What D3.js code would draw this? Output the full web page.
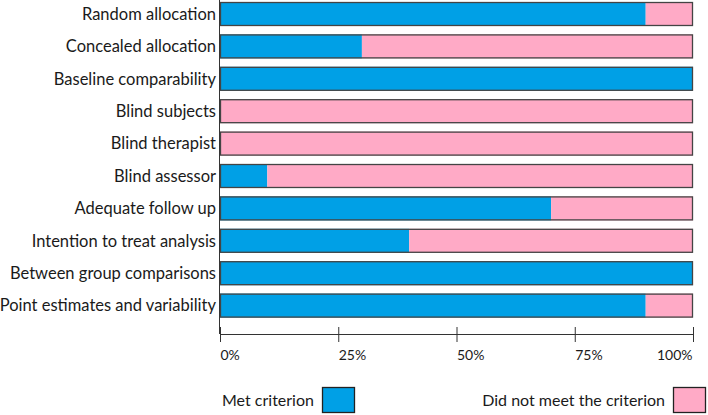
<!DOCTYPE html>
<html><head><meta charset="utf-8">
<script src="https://cdn.jsdelivr.net/npm/d3@7"></script>
<style>body{margin:0;background:#fff}svg{display:block}text{font-family:Lato,"Open Sans",sans-serif;fill:#1a1a1a}</style>
</head><body><svg id="c" width="708" height="415"></svg>
<script>
const categories = ["Random allocation","Concealed allocation","Baseline comparability","Blind subjects","Blind therapist","Blind assessor","Adequate follow up","Intention to treat analysis","Between group comparisons","Point estimates and variability"];
const metValues = [90,30,100,0,0,10,70,40,100,90];
const notMetValues = metValues.map(v => 100 - v);
const tickValues = [0,25,50,75,100];
const tickLabels = ["0%","25%","50%","75%","100%"];
const legendLabels = ["Met criterion","Did not meet the criterion"];
const colors = ["#00A0E6","#FFAAC6"];

const svg = d3.select("#c");
const x = d3.scaleLinear().domain([0,100]).range([220,693]);
const y = d3.scaleBand().domain(categories).range([-2.2,321.8]).paddingInner(0.26).paddingOuter(0.13);

// vertical axis line
svg.append("line").attr("x1",219.5).attr("x2",219.5).attr("y1",0).attr("y2",334).attr("stroke","#333").attr("stroke-width",1);

const rows = svg.selectAll("g.row").data(categories).join("g").attr("class","row");
rows.append("rect").attr("x",x(0)).attr("y",d=>y(d)).attr("height",y.bandwidth())
  .attr("width",(d,i)=>x(metValues[i])-x(0)).attr("fill",colors[0]);
rows.append("rect").attr("x",(d,i)=>x(metValues[i])).attr("y",d=>y(d)).attr("height",y.bandwidth())
  .attr("width",(d,i)=>x(100)-x(metValues[i])).attr("fill",colors[1]);
rows.append("rect").attr("x",x(0)+0.5).attr("y",d=>y(d)+0.5).attr("height",y.bandwidth()-1)
  .attr("width",x(100)-x(0)-1).attr("fill","none").attr("stroke","#444").attr("stroke-width",1.3);
rows.append("text").attr("x",216).attr("y",d=>y(d)+y.bandwidth()/2).attr("dy","0.35em")
  .attr("text-anchor","end").attr("font-size",16.5).text(d=>d);

// x axis
const ax = svg.append("g").attr("transform","translate(0,334)")
  .call(d3.axisBottom(x).tickValues(tickValues).tickFormat((d,i)=>tickLabels[i]).tickSize(8).tickPadding(0));
ax.select(".domain").attr("stroke","#333").attr("d",`M${x(0)},0.5H${x(100)}`);
ax.selectAll(".tick line").attr("y1",-7).attr("y2",8).attr("stroke","#333");
ax.selectAll(".tick text").attr("y",21).attr("dy","0.35em").attr("font-size",14).attr("font-family","Lato, sans-serif").attr("fill","#1a1a1a")
  .attr("text-anchor",(d,i)=> i===tickValues.length-1 ? "end" : "start").attr("dx",(d,i)=> i===tickValues.length-1 ? -1 : 0);

// legend
const leg = [{t:legendLabels[0],c:colors[0],tx:222,bx:322},{t:legendLabels[1],c:colors[1],tx:665,bx:673}];
svg.append("text").attr("x",leg[0].tx).attr("y",400).attr("dy","0.35em").attr("font-size",16).text(leg[0].t);
svg.append("text").attr("x",leg[1].tx).attr("y",400).attr("dy","0.35em").attr("text-anchor","end").attr("font-size",16).text(leg[1].t);
leg.forEach(l=>{
  svg.append("rect").attr("x",l.bx+0.5).attr("y",387.5).attr("width",32).attr("height",25).attr("fill",l.c).attr("stroke","#222").attr("stroke-width",1.3);
});
</script></body></html>
